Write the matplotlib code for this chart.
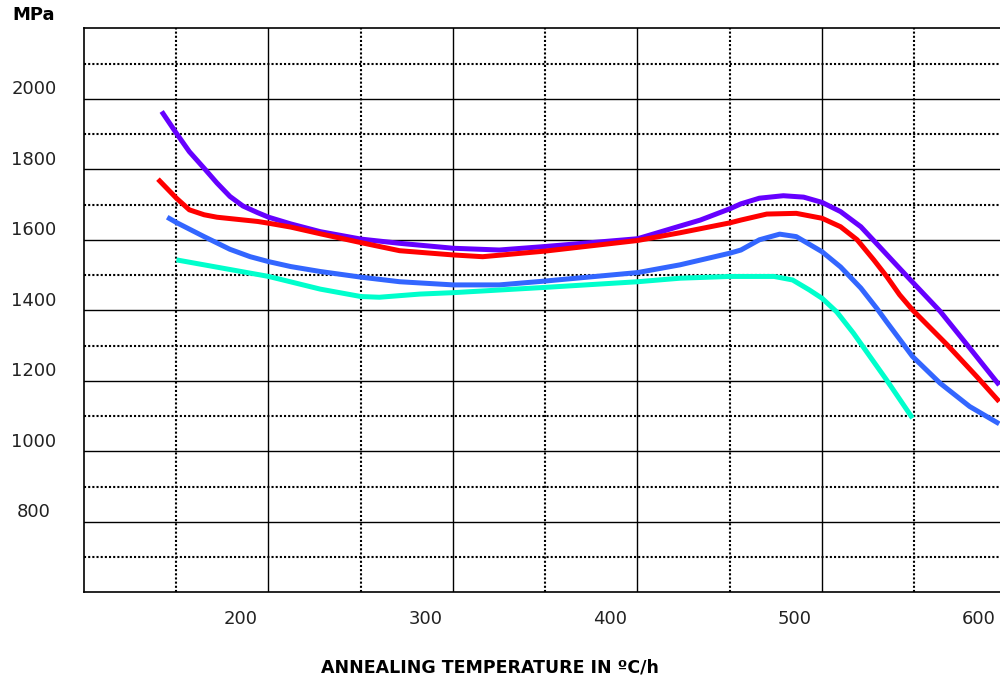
import matplotlib
matplotlib.use("Agg")
import matplotlib.pyplot as plt
import numpy as np

# values (temperature in degC, strength in MPa)
purple_t = [157, 165, 172, 180, 187, 194, 201, 209, 215, 227, 243, 265, 286, 315, 340, 365,
            415, 438, 449, 465, 471, 481, 494, 505, 515, 525, 536, 546, 557, 564, 579, 595, 611]
purple_v = [1931, 1869, 1817, 1770, 1728, 1690, 1663, 1644, 1631, 1612, 1590, 1569, 1557, 1543,
            1538, 1548, 1570, 1606, 1623, 1655, 1669, 1685, 1692, 1688, 1673, 1647, 1604, 1548,
            1486, 1447, 1364, 1260, 1155]

red_t = [155, 165, 172, 180, 187, 198, 209, 215, 227, 243, 265, 286, 315, 331, 365, 415, 438,
         465, 471, 485, 501, 515, 525, 534, 543, 550, 557, 564, 583, 599, 611]
red_v = [1739, 1685, 1652, 1638, 1631, 1625, 1619, 1614, 1603, 1584, 1559, 1536, 1524, 1519,
         1535, 1565, 1587, 1615, 1623, 1640, 1642, 1628, 1604, 1567, 1510, 1463, 1411, 1368,
         1268, 1178, 1108]

blue_t = [160, 165, 180, 194, 205, 215, 227, 243, 265, 286, 315, 340, 365, 415, 438, 465, 471,
          481, 492, 501, 515, 525, 536, 545, 550, 564, 579, 595, 611]
blue_v = [1631, 1616, 1576, 1540, 1519, 1505, 1491, 1477, 1461, 1448, 1439, 1439, 1450, 1474,
          1496, 1529, 1538, 1567, 1583, 1576, 1533, 1490, 1430, 1370, 1334, 1236, 1160, 1094, 1045]

cyan_t = [165, 215, 243, 265, 275, 297, 315, 365, 415, 438, 465, 489, 499, 508, 515, 523,
          532, 550, 564]
cyan_v = [1510, 1463, 1427, 1406, 1404, 1413, 1417, 1432, 1448, 1458, 1463, 1463, 1453, 1425,
          1401, 1362, 1302, 1169, 1061]

x_ticks = [200, 300, 400, 500, 600]
y_ticks = [800, 1000, 1200, 1400, 1600, 1800, 2000]

series = [(purple_t, purple_v, "#6600ff"),
          (red_t, red_v, "#ff0000"),
          (blue_t, blue_v, "#3366ff"),
          (cyan_t, cyan_v, "#00ffcc")]

fig = plt.figure(figsize=(10, 6.8), dpi=100)
# axes runs slightly past the right edge of the image, as in the original
ax = fig.add_axes([0.084, 0.129, 0.920, 0.8294])
ax.set_xlim(114.9, 613.6)
ax.set_ylim(567, 2167)

# grid: solid / dotted alternating, offset from the labels like the source
for k, gx in enumerate(np.arange(164.9, 613, 50)):
    if k % 2 == 0:
        ax.axvline(gx, color="black", lw=1.5, ls=(0, (1, 1)), zorder=1)
    else:
        ax.axvline(gx, color="black", lw=1.0, zorder=1)
for k, gy in enumerate(np.arange(667, 2167, 100)):
    if k % 2 == 0:
        ax.axhline(gy, color="black", lw=1.5, ls=(0, (1, 1)), zorder=1)
    else:
        ax.axhline(gy, color="black", lw=1.0, zorder=1)

for t, v, c in series:
    ax.plot(t, v, color=c, lw=3.6, solid_capstyle="butt", solid_joinstyle="round", zorder=3)

ax.set_xticks(x_ticks)
ax.set_yticks(y_ticks)
ax.tick_params(length=0, labelsize=13, colors="#222222")
ax.tick_params(axis="x", pad=13)
ax.tick_params(axis="y", pad=36)
for lbl in ax.get_yticklabels():
    lbl.set_ha("center")

for s in ["left", "bottom", "top"]:
    ax.spines[s].set_linewidth(1.2)
ax.spines["right"].set_visible(False)

fig.text(0.034, 0.978, "MPa", ha="center", va="center", fontsize=13, fontweight="bold")
fig.text(0.490, 0.018, "ANNEALING TEMPERATURE IN ºC/h", ha="center", va="center",
         fontsize=12.5, fontweight="bold")

fig.savefig("out.png", dpi=100)
